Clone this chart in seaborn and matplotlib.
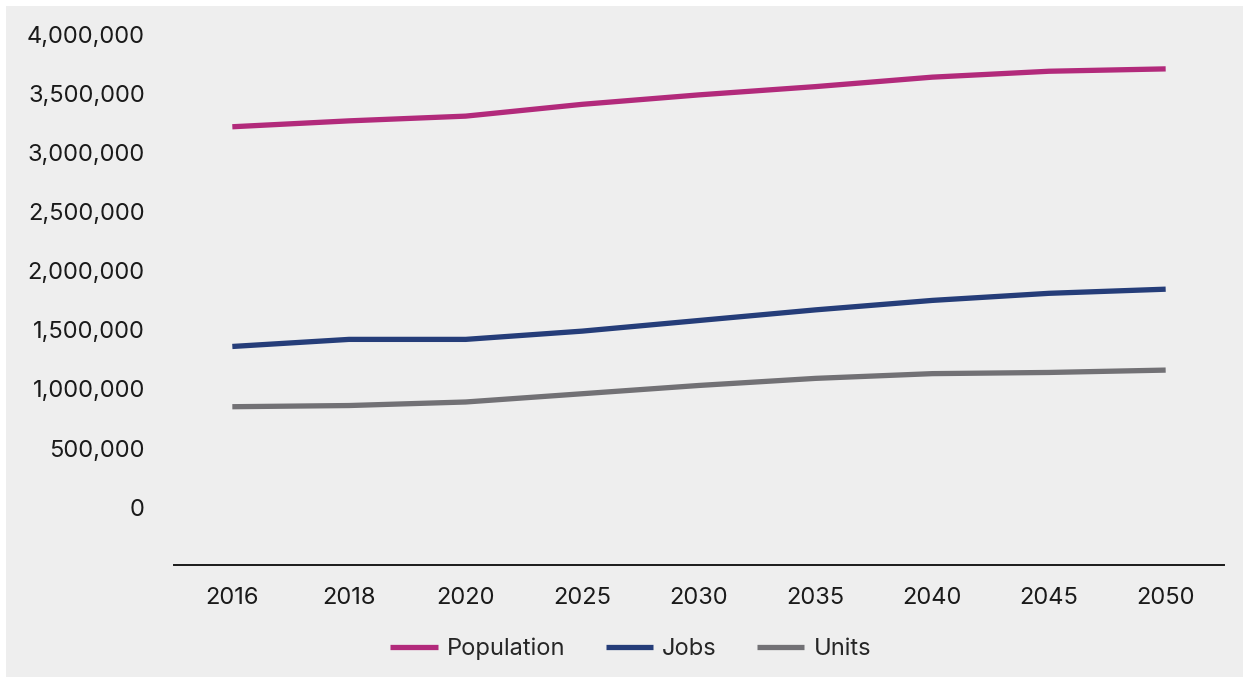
import pandas as pd
import seaborn as sns
import matplotlib.pyplot as plt
from matplotlib.patches import Rectangle
from matplotlib.ticker import FuncFormatter

years = ['2016', '2018', '2020', '2025', '2030', '2035', '2040', '2045', '2050']
population = [3220000, 3270000, 3310000, 3410000, 3490000, 3560000, 3640000, 3690000, 3710000]
jobs = [1360000, 1420000, 1420000, 1490000, 1580000, 1670000, 1750000, 1810000, 1845000]
units = [850000, 860000, 890000, 960000, 1030000, 1090000, 1130000, 1140000, 1160000]

series_names = ['Population', 'Jobs', 'Units']
colors = ['#b22a7b', '#253d79', '#727175']


def main():
    sns.set_theme(style='white')
    plt.rcParams['font.family'] = ['Inter', 'DejaVu Sans']

    df = pd.DataFrame({'year': years * 3,
                       'value': population + jobs + units,
                       'series': sum([[s] * len(years) for s in series_names], [])})

    fig = plt.figure(figsize=(12.49, 6.83), dpi=100, facecolor='white')
    # gray panel behind everything
    fig.patches.append(Rectangle((6 / 1249, 6 / 683), 1237 / 1249, 671 / 683,
                                 transform=fig.transFigure, facecolor='#eeeeee',
                                 edgecolor='none', zorder=-10))
    ax = fig.add_axes([174 / 1249, 118 / 683, 1050 / 1249, 554 / 683])
    ax.set_facecolor('#eeeeee')

    sns.lineplot(data=df, x='year', y='value', hue='series', palette=colors,
                 linewidth=3.8, ax=ax, sort=False, solid_capstyle='butt')

    ax.set_xlim(-0.5, 8.5)
    ax.set_ylim(-490000, 4200000)
    ax.set_yticks(range(0, 4000001, 500000))
    ax.yaxis.set_major_formatter(FuncFormatter(lambda v, p: f'{int(v):,}'))
    ax.tick_params(axis='both', length=0, labelsize=17, colors='#1a1a1a')
    ax.tick_params(axis='y', pad=21)
    ax.tick_params(axis='x', pad=16)
    ax.set_xlabel('')
    ax.set_ylabel('')
    for side in ['top', 'right', 'left']:
        ax.spines[side].set_visible(False)
    ax.spines['bottom'].set_color('#1a1a1a')
    ax.spines['bottom'].set_linewidth(1.4)

    handles, labels = ax.get_legend_handles_labels()
    for h in handles:
        h.set_solid_capstyle('butt')
    ax.legend(handles, labels, loc='center', bbox_to_anchor=(0.505, 0.0498),
              bbox_transform=fig.transFigure, ncol=3, frameon=False,
              fontsize=17, handlelength=2.0, columnspacing=1.7,
              handletextpad=0.4)

    plt.savefig('out.png', dpi=100, facecolor='white')


if __name__ == '__main__':
    main()
